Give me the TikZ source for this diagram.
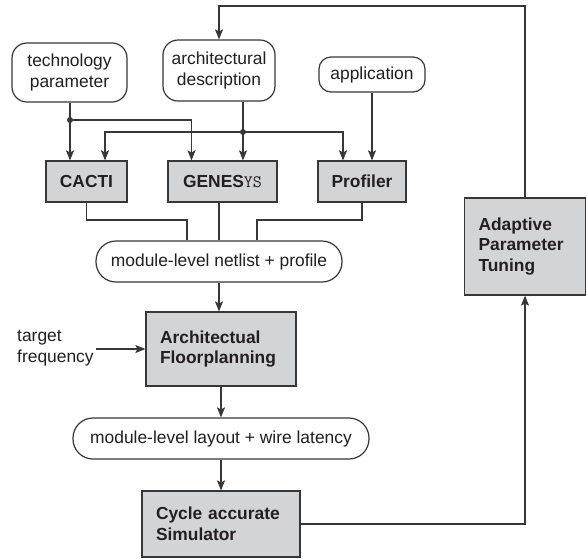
\documentclass[tikz,border=0pt]{standalone}
\usepackage{fontspec}
\setmainfont{Liberation Sans}
\usetikzlibrary{arrows.meta,positioning,calc}
\definecolor{FlowLine}{RGB}{55,55,55}
\definecolor{FlowGray}{RGB}{211,212,214}
\definecolor{FlowText}{RGB}{35,31,32}
\newcommand{\flowfont}{\fontsize{17.4}{20.5}\selectfont}
\tikzset{
  rbox/.style={draw=FlowLine,fill=white,rounded corners=15pt,line width=1.2pt,align=center,inner sep=0pt},
  gbox/.style={draw=FlowLine,fill=FlowGray,line width=1.2pt,align=center,inner sep=0pt,font=\flowfont\bfseries},
  lbox/.style={gbox,align=left,inner xsep=14pt},
  wire/.style={FlowLine,line width=1.2pt},
  arr/.style={-{Stealth[length=10pt,width=8pt,inset=2pt]},FlowLine,line width=1.2pt},
}

\begin{document}
\begin{tikzpicture}[x=1pt,y=-1pt,text=FlowText,font=\flowfont]
  \useasboundingbox (0,0) rectangle (587,558);
        % inputs
        \node[rbox,minimum width=115pt,minimum height=59pt] (tech) at (69.5,72.5) {technology\\parameter};
        \node[rbox,minimum width=112pt,minimum height=61pt] (arch) at (219,70.5) {architectural\\description};
        \node[rbox,rounded corners=12pt,minimum width=106pt,minimum height=35pt] (app) at (372,74.5) {application};
        % tools
        \node[gbox,minimum width=81pt,minimum height=41pt] (cacti) at (86.5,181.5) {CACTI};
        \node[gbox,minimum width=109pt,minimum height=41pt] (gen) at (222.5,181.5) {GENES\textnormal{\ttfamily YS}};
        \node[gbox,minimum width=88pt,minimum height=41pt] (prof) at (362,181.5) {Profiler};
        \node[rbox,rounded corners=20pt,minimum width=246pt,minimum height=41pt] (net) at (219,261.5) {module-level netlist + profile};
        \node[lbox,text width=122pt,minimum height=74pt] (floor) at (221,349) {Architectual\\Floorplanning};
        \node[align=left,inner sep=0pt,anchor=west] (target) at (17,348) {target\\frequency};
        \node[rbox,rounded corners=20pt,minimum width=296pt,minimum height=41pt] (lay) at (221,438.5) {module-level layout + wire latency};
        \node[lbox,text width=130pt,minimum height=66pt] (sim) at (221,524) {Cycle accurate\\Simulator\\[6pt]};
        \node[lbox,text width=93pt,minimum height=97pt] (tune) at (525,246.5) {Adaptive\\Parameter\\Tuning};
        % junctions
        \coordinate (j1) at (70,120);
        \coordinate (j2) at (243,132);
        \coordinate (m1) at (187,220);
        \coordinate (m2) at (257,220);
        \coordinate (top) at (0,6);
        \draw[arr] (tech.south -| j1) -- (j1 |- cacti.north);
        \draw[arr] (j1) -| ([xshift=-31pt]gen.north);
        \draw[arr] (arch.south -| j2) -- (j2 |- gen.north);
        \draw[arr] (j2) -| ([xshift=18.5pt]cacti.north);
        \draw[arr] (j2) -| ([xshift=-19pt]prof.north);
        \draw[arr] (app.south) -- (app.south |- prof.north);
        \fill[FlowLine] (j1) circle (3pt) (j2) circle (3pt);
        \draw[wire] (cacti.south) |- (m1) -- (m1 |- net.north);
        \draw[wire] (gen.south -| net.north) -- (net.north);
        \draw[wire] (prof.south) |- (m2) -- (m2 |- net.north);
        \draw[arr] (net.south) -- (net.south |- floor.north);
        \draw[arr] ([xshift=2pt]target.east |- floor.west) -- (floor.west);
        \draw[arr] (floor) -- (lay);
        \draw[arr] (lay) -- (sim);
        \draw[arr] (sim.east) -| (tune.south);
        \draw[arr] (tune.north) -- (tune.north |- top) -| (arch.north);
      \end{tikzpicture}
\end{document}
